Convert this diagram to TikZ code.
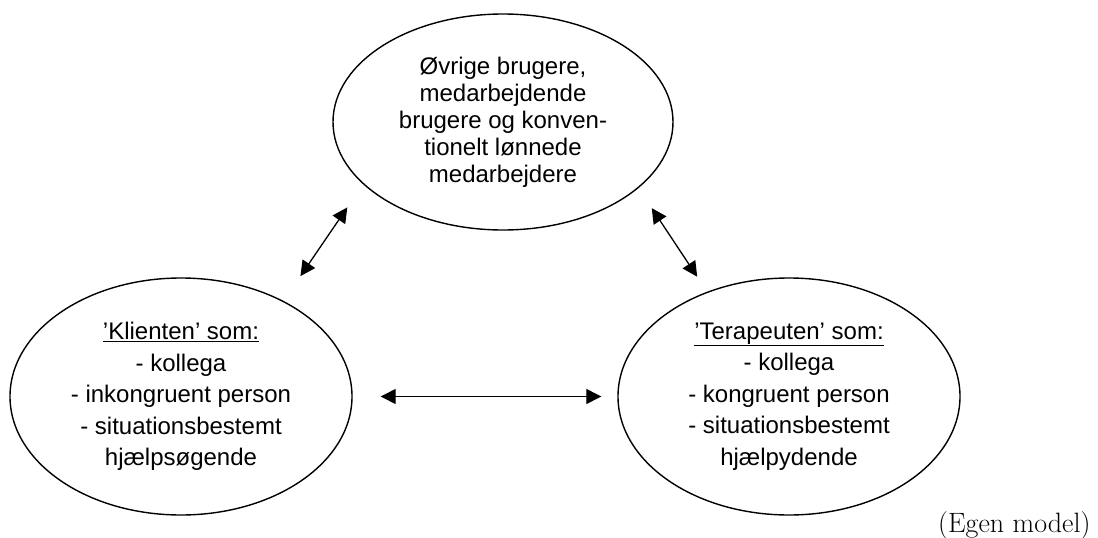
\documentclass[tikz,border=0pt]{standalone}
\usepackage{fontspec}
\newfontfamily\arialfont{Liberation Sans}
\usetikzlibrary{shapes, arrows.meta}
\tikzstyle{bubble} = [ellipse, draw, line width=1.4pt, inner sep=0pt, minimum width=342pt, minimum height=237pt, align=center, font=\arialfont\fontsize{24}{31.5}\selectfont]
\tikzstyle{link} = [draw, line width=1.3pt, {Triangle[length=15pt,width=15pt]}-{Triangle[length=15pt,width=15pt]}]

\begin{document}
\begin{tikzpicture}[x=1pt, y=-1pt]
	\useasboundingbox (0,0) rectangle (1098,538);
	\node [bubble, minimum width=340pt, minimum height=216pt, font=\arialfont\fontsize{24}{27}\selectfont] (others) at (503,122) {Øvrige brugere,\\ medarbejdende\\ brugere og konven-\\ tionelt lønnede\\ medarbejdere};
	\node [bubble] (client) at (181,396.5) {\underline{’Klienten’ som:}\\ - kollega\\ - inkongruent person\\ - situationsbestemt\\ hjælpsøgende};
	\node [bubble] (therapist) at (789,396.5) {\underline{’Terapeuten’ som:}\\ - kollega\\ - kongruent person\\ - situationsbestemt\\ hjælpydende};
	\node [anchor=base east, font=\fontsize{28}{32}\selectfont] (source) at (1094,532) {(Egen model)};
	
	\path [link, shorten <=28pt, shorten >=30pt] (others.204) -- (client.43);
	\path [link, shorten <=24pt, shorten >=18pt] (others.334) -- (therapist.128);
	\path [link, shorten <=28pt, shorten >=16pt] (client.east) -- (therapist.west);
\end{tikzpicture}
\end{document}
